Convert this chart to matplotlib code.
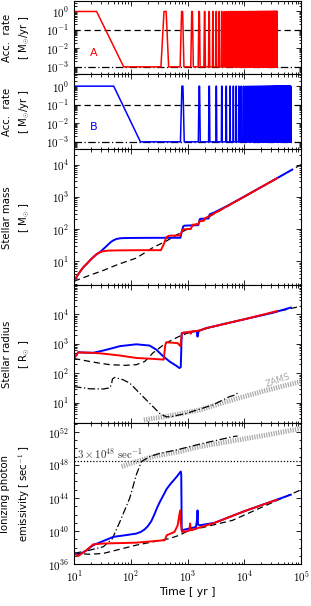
import numpy as np
import matplotlib
matplotlib.use("Agg")
from matplotlib import pyplot as plt
from matplotlib.ticker import FuncFormatter, LogLocator, NullFormatter

plt.rcParams["mathtext.fontset"] = "cm"
plt.rcParams["font.family"] = ["DejaVu Sans"]

# Plotting constants
LABEL_FONTSIZE = 7.3
TICK_FONTSIZE = 8
RED = "#ff0000"
BLUE = "#0000ff"
ZAMS_COLOR = "#a8a8a8"

# ---- accretion histories ----
# model A (red)
acc_a_t = [10, 25, 75]
acc_a_v = [1.0, 1.0, 1e-3]
burst_a_start = 340.0      # first burst, yr
burst_a_period = 400.0     # burst recurrence, yr
burst_a_last = 38000.0     # last burst, yr
# model B (blue)
acc_b_t = [10, 50, 148]
acc_b_v = [1.0, 1.0, 1e-3]
burst_b_start = 750.0
burst_b_period = 800.0
burst_b_last = 66000.0
# shape of one burst: rise, plateau, decay (yr)
burst_shape = [45.0, 35.0, 45.0]
acc_base = 1e-3
acc_peak = 1.0
acc_ref_const = 0.1

# ---- stellar mass ----
mass_a_t = [10, 11, 12.5, 14.6, 17, 19, 22, 25, 28.6, 33, 40, 60, 150, 340, 385, 420, 470,
            740, 790, 830, 870, 1140, 1190, 1230, 1540, 1590, 1630, 1940, 1990, 2030,
            2500, 3000, 5000, 1e4, 2e4, 38000]
mass_a_v = [2.3, 3.2, 4.5, 6.5, 8.5, 10.5, 13.5, 16.5, 19, 20.5, 21.3, 21.7, 22, 22, 35, 55, 62,
            63, 80, 95, 98, 100, 120, 136, 140, 158, 175, 180, 198, 215,
            260, 310, 510, 1010, 2010, 3800]
mass_b_t = [10, 11, 12.5, 14.6, 17, 19, 22, 25, 28.6, 33, 40, 45, 50, 56, 65, 80, 150, 750,
            800, 840, 880, 1550, 1600, 1640, 1680, 2350, 2400, 2440, 2480,
            3000, 5000, 1e4, 3e4, 70000]
mass_b_v = [2.3, 3.2, 4.5, 6.5, 8.5, 10.5, 13.5, 16.5, 19, 24, 33, 40, 45, 49, 51.5, 52.5, 53, 53.5,
            90, 120, 127, 132, 170, 200, 207, 212, 250, 280, 287,
            330, 520, 1020, 3000, 7000]
mass_ref_t = [10, 20, 33, 60, 125, 250, 420, 720, 1e3, 3e3, 1e4, 3e4, 1e5]
mass_ref_v = [2.4, 3.8, 5.2, 8, 12.5, 27, 42, 73, 100, 300, 1000, 3000, 1e4]

# ---- stellar radius ----
rad_a_t = [10, 11, 11.9, 14, 16.7, 21.8, 30, 64, 125, 246, 380, 405, 420, 500, 670, 750,
           790, 830, 1000, 1110, 1140, 1200, 1620, 2130, 5000, 1e4, 2e4, 38000]
rad_a_v = [316, 420, 515, 505, 500, 490, 470, 400, 330, 307, 290, 900, 1120, 1100, 1050, 830,
           2100, 2400, 2450, 2600, 2200, 2650, 2800, 3400, 5000, 6800, 9500, 13000]
rad_b_t = [10, 11, 11.9, 14, 16.7, 21.8, 32.7, 49, 64, 125, 215, 282, 370, 483, 630, 720,
           760, 790, 1000, 1450, 1500, 1560, 1620, 2130, 5000, 1e4, 3e4, 66000]
rad_b_v = [316, 420, 515, 505, 500, 495, 590, 720, 830, 960, 870, 630, 380, 250, 180, 150,
           160, 2300, 2450, 2700, 1750, 2600, 2800, 3400, 5000, 6800, 11000, 17000]
rad_ref_t = [10, 19, 30, 43, 80, 125, 176, 246, 420, 720, 1000, 1e4, 1e5]
rad_ref_v = [316, 250, 215, 195, 185, 195, 250, 490, 1070, 1800, 2300, 6800, 19000]
rad_dd_t = [10, 19, 32.7, 43, 46, 47.5, 52, 73, 96, 143, 215, 324, 420, 500, 950, 2770,
            5500, 6800, 7600]
rad_dd_v = [35, 29.5, 29, 32, 45, 63, 72, 60, 46, 21, 9.5, 4.3, 3.3, 3.3, 4.3, 8.3,
            16, 18, 21]
zams_r_t = [170, 420, 1620, 6200, 24000, 1e5]
zams_r_v = [2.6, 3.4, 5.6, 12.4, 26, 52]

# ---- ionizing photon emissivity (log10 of sec^-1) ----
q_a_t = [10, 11.9, 16, 21.8, 32.7, 125, 396, 430, 590, 670, 740, 760, 800, 1010, 1080, 1110,
         1140, 3000, 1e4, 38000]
q_a_v = [37.3, 37.0, 37.6, 38.4, 38.5, 38.6, 38.9, 39.5, 39.9, 40.7, 42.5, 41.0, 39.9, 40.0,
         40.1, 40.9, 40.1, 41.0, 42.4, 43.8]
q_b_t = [10, 11.9, 16, 21.8, 32.7, 49, 80, 125, 150, 175, 200, 230, 260, 290, 324, 380, 430,
         500, 580, 650, 720, 760, 775, 790, 1410, 1480, 1500, 1530, 1620, 3000, 1e4, 66000]
q_b_v = [37.4, 37.1, 37.6, 38.3, 38.8, 39.3, 39.5, 39.7, 39.9, 40.2, 40.6, 41.2, 42.0, 42.8,
         43.5, 44.4, 45.1, 45.7, 46.2, 46.6, 47.0, 47.2, 46.8, 40.1, 40.5, 41.5, 42.5, 40.8,
         40.7, 41.0, 42.4, 44.4]
q_ref_t = [10, 19, 32.7, 64, 125, 246, 483, 720, 1000, 6200, 1e5]
q_ref_v = [37.3, 37.2, 37.3, 37.8, 38.3, 38.7, 39.1, 39.5, 40.0, 41.3, 45.0]
q_dd_t = [10, 19, 32.7, 47.5, 64, 96, 125, 154, 215, 324, 630, 1860, 6200, 7600]
q_dd_v = [37.3, 37.7, 38.1, 39.1, 41.1, 44.0, 46.8, 48.4, 49.0, 49.4, 49.8, 50.6, 51.4, 51.5]
zams_q_t = [69, 125, 246, 720, 1620, 6200, 24000, 1e5]
zams_q_v = [47.8, 48.4, 49.0, 49.6, 50.2, 50.9, 51.6, 52.4]
q_threshold = 3e48


def accretion_history(t_ramp, v_ramp, first, period, last):
    """ Ramp-down phase followed by the episodic bursts. """
    t = list(t_ramp)
    v = list(v_ramp)
    rise, top, fall = burst_shape
    for tb in np.arange(first, last + 1, period):
        t += [tb, tb + rise, tb + rise + top, tb + rise + top + fall]
        v += [acc_base, acc_peak, acc_peak, acc_base]
    return t, v


def pow_label(val, pos):
    return r"$10^{%d}$" % int(round(np.log10(val)))


fig = plt.figure(figsize=(3.11, 6.06), dpi=100)
gs = fig.add_gridspec(5, 1, height_ratios=[73, 75, 136, 138, 141], hspace=0,
                      left=0.238, right=0.968, top=0.998, bottom=0.069)
axes = [fig.add_subplot(gs[i]) for i in range(5)]

for ax in axes:
    ax.set_xscale("log")
    ax.set_yscale("log")
    ax.set_xlim(10, 1e5)
    ax.tick_params(which="both", direction="in", top=True, right=True, labelsize=TICK_FONTSIZE,
                   width=0.6)
    ax.tick_params(which="major", length=3.5)
    ax.tick_params(which="minor", length=1.8)
    ax.yaxis.set_major_formatter(FuncFormatter(pow_label))
    ax.xaxis.set_major_formatter(FuncFormatter(pow_label))
    ax.xaxis.set_minor_formatter(NullFormatter())
    for sp in ax.spines.values():
        sp.set_linewidth(0.8)
for ax in axes[:-1]:
    ax.tick_params(labelbottom=False)

# Accretion rate panels
for ax, (tr, vr, b0, bp, bl), col, lab in (
        (axes[0], (acc_a_t, acc_a_v, burst_a_start, burst_a_period, burst_a_last), RED, "A"),
        (axes[1], (acc_b_t, acc_b_v, burst_b_start, burst_b_period, burst_b_last), BLUE, "B")):
    ax.axhline(acc_ref_const, color="k", ls=(0, (5, 3)), lw=0.9)
    ax.axhline(acc_base, color="k", ls=(0, (6, 2, 1, 2)), lw=0.9)
    t, v = accretion_history(tr, vr, b0, bp, bl)
    ax.plot(t, v, color=col, lw=1.1)
    ax.set_ylim(4e-4, 3.6 if lab == "A" else 4.4)
    ax.yaxis.set_major_locator(LogLocator(base=10, numticks=10))
    ax.yaxis.set_minor_locator(LogLocator(base=10, subs=np.arange(2, 10), numticks=10))
    ax.yaxis.set_minor_formatter(NullFormatter())
    ax.text(0.07, 0.29, lab, color=col, fontsize=8, transform=ax.transAxes,
            ha="left", va="center")
    ax.set_ylabel("Acc.  rate\n" + r"[ M$_{\odot}$/yr ]", fontsize=LABEL_FONTSIZE,
                  linespacing=1.6)

# Stellar mass
ax = axes[2]
ax.plot(mass_ref_t, mass_ref_v, color="k", ls=(0, (5, 3)), lw=0.9)
ax.plot(mass_b_t, mass_b_v, color=BLUE, lw=1.4)
ax.plot(mass_a_t, mass_a_v, color=RED, lw=1.4)
ax.set_ylim(1.8, 3e4)
ax.set_ylabel("Stellar mass\n" + r"[ M$_{\odot}$ ]", fontsize=LABEL_FONTSIZE, linespacing=1.6)

# Stellar radius
ax = axes[3]
ax.plot(zams_r_t, zams_r_v, color=ZAMS_COLOR, lw=3.5, dashes=(0.25, 0.25), solid_capstyle="butt")
ax.plot(rad_ref_t, rad_ref_v, color="k", ls=(0, (5, 3)), lw=0.9)
ax.plot(rad_dd_t, rad_dd_v, color="k", ls=(0, (6, 2, 1, 2)), lw=0.9)
ax.plot(rad_b_t, rad_b_v, color=BLUE, lw=1.4)
ax.plot(rad_a_t, rad_a_v, color=RED, lw=1.4)
ax.set_ylim(2.0, 9.8e4)
ax.yaxis.set_major_locator(LogLocator(base=10, subs=[1.0], numticks=10))
ax.text(0.9, 0.31, "ZAMS", color=ZAMS_COLOR, fontsize=6.5, rotation=19,
        transform=ax.transAxes, ha="center", va="center")
ax.set_ylabel("Stellar radius\n" + r"[ R$_{\odot}$ ]", fontsize=LABEL_FONTSIZE, linespacing=1.6)

# Ionizing photon emissivity
ax = axes[4]
ax.axhline(q_threshold, color="k", ls=(0, (1, 1.5)), lw=0.9)
ax.plot(zams_q_t, 10.0 ** np.array(zams_q_v), color=ZAMS_COLOR, lw=3.5, dashes=(0.25, 0.25),
        solid_capstyle="butt")
ax.plot(q_ref_t, 10.0 ** np.array(q_ref_v), color="k", ls=(0, (5, 3)), lw=0.9)
ax.plot(q_dd_t, 10.0 ** np.array(q_dd_v), color="k", ls=(0, (6, 2, 1, 2)), lw=0.9)
ax.plot(q_b_t, 10.0 ** np.array(q_b_v), color=BLUE, lw=1.4)
ax.plot(q_a_t, 10.0 ** np.array(q_a_v), color=RED, lw=1.4)
ax.set_ylim(1e36, 1.1e53)
ax.yaxis.set_major_locator(LogLocator(base=10 ** 4, numticks=10))
ax.yaxis.set_minor_locator(LogLocator(base=10, subs=[1.0], numticks=30))
ax.yaxis.set_minor_formatter(NullFormatter())
ax.text(0.015, 0.78, r"$3\times10^{48}\ \mathrm{sec}^{-1}$", color="#333333", fontsize=7.8,
        transform=ax.transAxes, ha="left", va="center")
ax.set_ylabel("Ionizing photon\n" + r"emissivity [ sec$^{-1}$ ]", fontsize=LABEL_FONTSIZE,
              linespacing=1.6)
ax.set_xlabel("Time [ yr ]", fontsize=LABEL_FONTSIZE + 0.5, labelpad=2)

for ax in axes:
    ax.yaxis.set_label_coords(-0.185, 0.5)

fig.savefig("out.png", dpi=100)
